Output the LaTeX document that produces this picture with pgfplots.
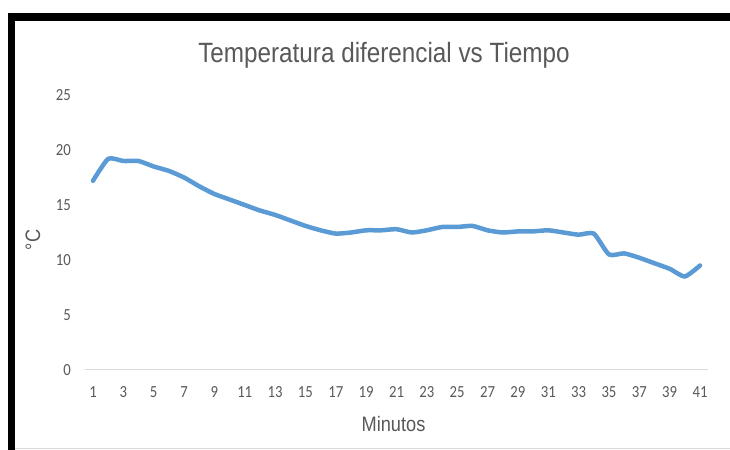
\documentclass[border=0pt]{standalone}
\usepackage{pgfplots}
\pgfplotsset{compat=1.18}
\usepackage{fontspec}
\setmainfont{Carlito}
\newfontfamily\arialn[FakeStretch=0.87]{Liberation Sans}
\newfontfamily\calibn[FakeStretch=0.87]{Carlito}
\definecolor{xlblue}{HTML}{5B9BD5}
\definecolor{xlgray}{HTML}{595959}
\definecolor{xlgrid}{HTML}{D9D9D9}

\pgfplotstableread{
x y
1 17.2
2 19.2
3 19.0
4 19.0
5 18.5
6 18.1
7 17.5
8 16.7
9 16.0
10 15.5
11 15.0
12 14.5
13 14.1
14 13.6
15 13.1
16 12.7
17 12.4
18 12.5
19 12.7
20 12.7
21 12.8
22 12.5
23 12.7
24 13.0
25 13.0
26 13.1
27 12.7
28 12.5
29 12.6
30 12.6
31 12.7
32 12.5
33 12.3
34 12.4
35 10.5
36 10.6
37 10.2
38 9.7
39 9.2
40 8.5
41 9.5
}\datatable

\begin{document}
\begin{tikzpicture}[x=1bp,y=1bp]
\useasboundingbox (0,0) rectangle (730,450);
\fill[white] (0,0) rectangle (730,450);
% marco negro
\fill[black] (8,429) rectangle (730,437);
\fill[black] (8,0) rectangle (15,437);
\draw[xlgrid, line width=1bp] (15,1.5) -- (730,1.5);

\begin{axis}[
    at={(85.4bp,80bp)}, anchor=south west,
    scale only axis,
    width=622.2bp, height=275bp,
    xmin=0.5, xmax=41.5,
    ymin=0, ymax=25,
    xtick={1,3,...,41},
    ytick={0,5,...,25},
    axis line style={draw=none},
    major tick length=0pt,
    clip=false,
    /pgf/number format/assume math mode=true,
    tick label style={font=\calibn\fontsize{17}{19}\selectfont, text=xlgray},
    yticklabel style={anchor=east, inner sep=0pt, xshift=-14.4bp},
    xticklabel style={anchor=north, inner sep=0pt, yshift=-16bp},
]
\draw[xlgrid, line width=1bp] (axis cs:0.5,0) -- (axis cs:41.5,0);
\addplot[xlblue, line width=4.5bp, smooth, tension=0.35, line cap=round, line join=round] table[x=x,y=y] {\datatable};
\end{axis}

\node[anchor=base, text=xlgray, font=\arialn\fontsize{28}{32}\selectfont, inner sep=0pt] at (384,387) {Temperatura diferencial vs Tiempo};
\node[anchor=base, text=xlgray, font=\arialn\fontsize{21}{24}\selectfont, inner sep=0pt] at (393.5,18) {Minutos};
\node[rotate=90, text=xlgray, font=\arialn\fontsize{21}{24}\selectfont, inner sep=0pt] at (33,210) {°C};
\end{tikzpicture}
\end{document}
